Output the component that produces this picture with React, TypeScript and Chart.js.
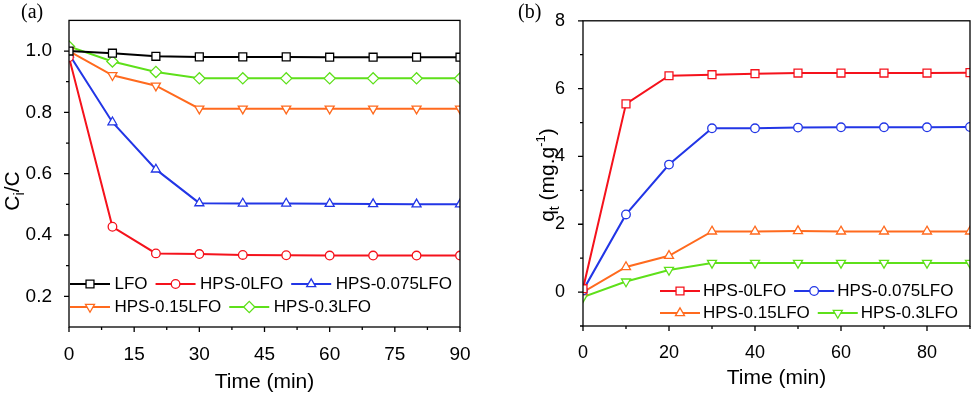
import React, { useEffect, useRef } from 'react';
import { Chart, registerables } from 'chart.js';
import { drawPoint } from 'chart.js/helpers';

Chart.register(...registerables);

const FONT = '"Liberation Sans", Arial, sans-serif';
const SERIF = '"Liberation Serif", "Times New Roman", serif';

// ---------- Panel (a) data ----------
const timeA = [0, 10, 20, 30, 40, 50, 60, 70, 80, 90];
const lfoA = [1.0, 0.993, 0.983, 0.981, 0.981, 0.981, 0.98, 0.98, 0.98, 0.98];
const hps0A = [0.98, 0.427, 0.34, 0.338, 0.335, 0.334, 0.333, 0.333, 0.333, 0.333];
const hps075A = [0.99, 0.768, 0.614, 0.504, 0.503, 0.503, 0.502, 0.501, 0.5, 0.5];
const hps015A = [1.0, 0.921, 0.887, 0.812, 0.812, 0.812, 0.812, 0.812, 0.812, 0.812];
const hps03A = [1.015, 0.966, 0.932, 0.911, 0.911, 0.911, 0.911, 0.911, 0.911, 0.911];
const namesA = ['LFO', 'HPS-0LFO', 'HPS-0.075LFO', 'HPS-0.15LFO', 'HPS-0.3LFO'];
const xMajorA = [0, 15, 30, 45, 60, 75, 90];
const xMinorA = [7.5, 22.5, 37.5, 52.5, 67.5, 82.5];
const yMajorA = [0.2, 0.4, 0.6, 0.8, 1.0];
const yMinorA = [0.3, 0.5, 0.7, 0.9];

// ---------- Panel (b) data ----------
const timeB = [0, 10, 20, 30, 40, 50, 60, 70, 80, 90];
const hps0B = [0.1, 5.55, 6.38, 6.41, 6.44, 6.46, 6.46, 6.46, 6.46, 6.47];
const hps075B = [0.05, 2.29, 3.76, 4.83, 4.83, 4.85, 4.86, 4.86, 4.86, 4.87];
const hps015B = [0.0, 0.74, 1.07, 1.79, 1.79, 1.8, 1.79, 1.79, 1.79, 1.79];
const hps03B = [-0.15, 0.31, 0.65, 0.86, 0.86, 0.86, 0.86, 0.86, 0.86, 0.86];
const namesB = ['HPS-0LFO', 'HPS-0.075LFO', 'HPS-0.15LFO', 'HPS-0.3LFO'];
const xMajorB = [0, 20, 40, 60, 80];
const xMinorB = [10, 30, 50, 70, 90];
const yMajorB = [0, 2, 4, 6, 8];
const yMinorB = [-1, 1, 3, 5, 7];

// ---------- styles ----------
const BLACK = '#000000';
const RED = '#f5121c';
const BLUE = '#2236e6';
const ORANGE = '#ff6a1e';
const GREEN = '#5ee01a';

type Mk = { style: string; rot: number; r: number };
const SQUARE: Mk = { style: 'rect', rot: 0, r: 5.6 };
const CIRCLE: Mk = { style: 'circle', rot: 0, r: 4.3 };
const TRI_UP: Mk = { style: 'triangle', rot: 0, r: 5.2 };
const TRI_DOWN: Mk = { style: 'triangle', rot: 180, r: 5.2 };
const DIAMOND: Mk = { style: 'rectRot', rot: 0, r: 5.6 };

function makeDataset(name: string, xs: number[], ys: number[], color: string, mk: Mk) {
  return {
    label: name,
    data: xs.map((x, i) => ({ x, y: ys[i] })),
    borderColor: color,
    backgroundColor: '#ffffff',
    borderWidth: 2,
    tension: 0,
    pointStyle: mk.style,
    pointRotation: mk.rot,
    pointRadius: mk.r,
    pointBorderWidth: 1.3,
    pointBackgroundColor: '#ffffff',
    pointBorderColor: color,
    clip: 0,
  };
}

type Part = { t: string; size: number; dy: number };

function drawRotatedRich(ctx: CanvasRenderingContext2D, parts: Part[], baseX: number, cy: number) {
  let total = 0;
  const widths = parts.map((p) => {
    ctx.font = `${p.size}px ${FONT}`;
    const w = ctx.measureText(p.t).width;
    total += w;
    return w;
  });
  ctx.save();
  ctx.translate(baseX, cy);
  ctx.rotate(-Math.PI / 2);
  ctx.fillStyle = '#000';
  ctx.textBaseline = 'alphabetic';
  ctx.textAlign = 'left';
  let x = -total / 2;
  parts.forEach((p, i) => {
    ctx.font = `${p.size}px ${FONT}`;
    ctx.fillText(p.t, x, p.dy);
    x += widths[i];
  });
  ctx.restore();
}

type LegendItem = { name: string; color: string; mk: Mk };
type Spec = {
  xMajor: number[]; xMinor: number[]; yMajor: number[]; yMinor: number[];
  panel: string; panelX: number;
  yTitle: Part[]; yTitleX: number; yTitleY: number;
  xTitleY: number;
  legendRows: { x: number; y: number; items: LegendItem[] }[];
  legendTextGap: number;
};

function makePlugin(spec: Spec) {
  return {
    id: 'panelDecor',
    afterDraw(chart: any) {
      const ctx: CanvasRenderingContext2D = chart.ctx;
      const { left, right, top, bottom } = chart.chartArea;
      const xs = chart.scales.x;
      const ys = chart.scales.y;
      ctx.save();
      ctx.strokeStyle = '#000';
      ctx.lineWidth = 1.3;
      ctx.strokeRect(left, top, right - left, bottom - top);
      ctx.beginPath();
      spec.xMajor.forEach((v) => { const p = xs.getPixelForValue(v); ctx.moveTo(p, bottom); ctx.lineTo(p, bottom + 5); });
      spec.xMinor.forEach((v) => { const p = xs.getPixelForValue(v); ctx.moveTo(p, bottom); ctx.lineTo(p, bottom + 3); });
      spec.yMajor.forEach((v) => { const p = ys.getPixelForValue(v); ctx.moveTo(left, p); ctx.lineTo(left - 5, p); });
      spec.yMinor.forEach((v) => { const p = ys.getPixelForValue(v); ctx.moveTo(left, p); ctx.lineTo(left - 3, p); });
      ctx.stroke();

      // panel label
      ctx.fillStyle = '#000';
      ctx.font = `20px ${SERIF}`;
      ctx.textBaseline = 'alphabetic';
      ctx.textAlign = 'left';
      ctx.fillText(spec.panel, spec.panelX, 18);

      // x title
      ctx.font = `21px ${FONT}`;
      ctx.textAlign = 'center';
      ctx.fillText('Time (min)', (left + right) / 2, spec.xTitleY);

      // y title
      drawRotatedRich(ctx, spec.yTitle, spec.yTitleX, spec.yTitleY);

      // legend
      ctx.font = `17px ${FONT}`;
      ctx.textAlign = 'left';
      ctx.textBaseline = 'middle';
      spec.legendRows.forEach((row) => {
        let x = row.x;
        row.items.forEach((it) => {
          ctx.strokeStyle = it.color;
          ctx.lineWidth = 2;
          ctx.beginPath();
          ctx.moveTo(x, row.y);
          ctx.lineTo(x + 40, row.y);
          ctx.stroke();
          ctx.fillStyle = '#ffffff';
          ctx.lineWidth = 1.3;
          drawPoint(ctx, { pointStyle: it.mk.style as any, rotation: it.mk.rot, radius: it.mk.r, borderWidth: 1.3 }, x + 20, row.y);
          ctx.fillStyle = '#000';
          ctx.font = `17px ${FONT}`;
          const tx = x + 40 + spec.legendTextGap;
          ctx.fillText(it.name, tx, row.y);
          x = tx + ctx.measureText(it.name).width + 8;
        });
      });
      ctx.restore();
    },
  };
}

function PanelChart({ config, left, width }: { config: any; left: number; width: number }) {
  const ref = useRef<HTMLCanvasElement | null>(null);
  useEffect(() => {
    if (!ref.current) return;
    const chart = new Chart(ref.current, config);
    return () => chart.destroy();
  }, []);
  return (
    <canvas
      ref={ref}
      width={width}
      height={395}
      style={{ position: 'absolute', left, top: 0, width, height: 395, display: 'block' }}
    />
  );
}

function configA() {
  const datasets = [
    makeDataset(namesA[0], timeA, lfoA, BLACK, SQUARE),
    makeDataset(namesA[1], timeA, hps0A, RED, CIRCLE),
    makeDataset(namesA[2], timeA, hps075A, BLUE, TRI_UP),
    makeDataset(namesA[3], timeA, hps015A, ORANGE, TRI_DOWN),
    makeDataset(namesA[4], timeA, hps03A, GREEN, DIAMOND),
  ];
  const spec: Spec = {
    xMajor: xMajorA, xMinor: xMinorA, yMajor: yMajorA, yMinor: yMinorA,
    panel: '(a)', panelX: 21,
    yTitle: [{ t: 'C', size: 21, dy: 0 }, { t: 'i', size: 14, dy: 5 }, { t: '/C', size: 21, dy: 0 }],
    yTitleX: 18.5, yTitleY: 191, xTitleY: 388,
    legendRows: [
      { x: 70, y: 284, items: [
        { name: namesA[0], color: BLACK, mk: SQUARE },
        { name: namesA[1], color: RED, mk: CIRCLE },
        { name: namesA[2], color: BLUE, mk: TRI_UP },
      ] },
      { x: 70, y: 307, items: [
        { name: namesA[3], color: ORANGE, mk: TRI_DOWN },
        { name: namesA[4], color: GREEN, mk: DIAMOND },
      ] },
    ],
    legendTextGap: 4.5,
  };
  return {
    type: 'line',
    data: { datasets },
    options: {
      responsive: false,
      animation: false,
      devicePixelRatio: 1,
      layout: { padding: { left: 0, right: 29, top: 13, bottom: 0 } },
      plugins: { legend: { display: false }, tooltip: { enabled: false } },
      scales: {
        x: {
          type: 'linear', min: 0, max: 90,
          afterFit: (s: any) => { s.height = 68; },
          grid: { display: false }, border: { display: false },
          ticks: { stepSize: 15, autoSkip: false, maxRotation: 0, padding: 8, color: '#000', font: { family: FONT, size: 19 } },
        },
        y: {
          type: 'linear', min: 0.1, max: 1.1,
          afterFit: (s: any) => { s.width = 69; },
          grid: { display: false }, border: { display: false },
          ticks: {
            stepSize: 0.1, autoSkip: false, padding: 9, color: '#000', font: { family: FONT, size: 19 },
            callback: (v: number) => {
              const r = Math.round(v * 10);
              return r % 2 === 0 && r >= 2 && r <= 10 ? (r / 10).toFixed(1) : '';
            },
          },
        },
      },
    },
    plugins: [makePlugin(spec)],
  };
}

function configB() {
  const datasets = [
    makeDataset(namesB[0], timeB, hps0B, RED, SQUARE),
    makeDataset(namesB[1], timeB, hps075B, BLUE, CIRCLE),
    makeDataset(namesB[2], timeB, hps015B, ORANGE, TRI_UP),
    makeDataset(namesB[3], timeB, hps03B, GREEN, TRI_DOWN),
  ];
  const spec: Spec = {
    xMajor: xMajorB, xMinor: xMinorB, yMajor: yMajorB, yMinor: yMinorB,
    panel: '(b)', panelX: 28,
    yTitle: [
      { t: 'q', size: 21, dy: 0 }, { t: 't', size: 14, dy: 5 },
      { t: ' (mg.g', size: 21, dy: 0 }, { t: '-1', size: 13, dy: -9 }, { t: ')', size: 21, dy: 0 },
    ],
    yTitleX: 63.5, yTitleY: 175, xTitleY: 384,
    legendRows: [
      { x: 170, y: 291, items: [
        { name: namesB[0], color: RED, mk: SQUARE },
        { name: namesB[1], color: BLUE, mk: CIRCLE },
      ] },
      { x: 170, y: 313, items: [
        { name: namesB[2], color: ORANGE, mk: TRI_UP },
        { name: namesB[3], color: GREEN, mk: TRI_DOWN },
      ] },
    ],
    legendTextGap: 3,
  };
  return {
    type: 'line',
    data: { datasets },
    options: {
      responsive: false,
      animation: false,
      devicePixelRatio: 1,
      layout: { padding: { left: 0, right: 5, top: 11, bottom: 0 } },
      plugins: { legend: { display: false }, tooltip: { enabled: false } },
      scales: {
        x: {
          type: 'linear', min: 0, max: 90,
          afterFit: (s: any) => { s.height = 69; },
          grid: { display: false }, border: { display: false },
          ticks: {
            stepSize: 10, autoSkip: false, maxRotation: 0, padding: 8, color: '#000', font: { family: FONT, size: 18 },
            callback: (v: number) => (v % 20 === 0 && v <= 80 ? String(v) : ''),
          },
        },
        y: {
          type: 'linear', min: -1, max: 8,
          afterFit: (s: any) => { s.width = 93; },
          grid: { display: false }, border: { display: false },
          ticks: {
            stepSize: 1, autoSkip: false, padding: 10, color: '#000', font: { family: FONT, size: 18 },
            callback: (v: number) => (v >= 0 && v % 2 === 0 ? String(v) : ''),
          },
        },
      },
    },
    plugins: [makePlugin(spec)],
  };
}

export default function App() {
  return (
    <div style={{ position: 'fixed', left: 0, top: 0, width: 978, height: 395, background: '#ffffff', overflow: 'hidden' }}>
      <PanelChart config={configA()} left={0} width={489} />
      <PanelChart config={configB()} left={490} width={488} />
    </div>
  );
}
